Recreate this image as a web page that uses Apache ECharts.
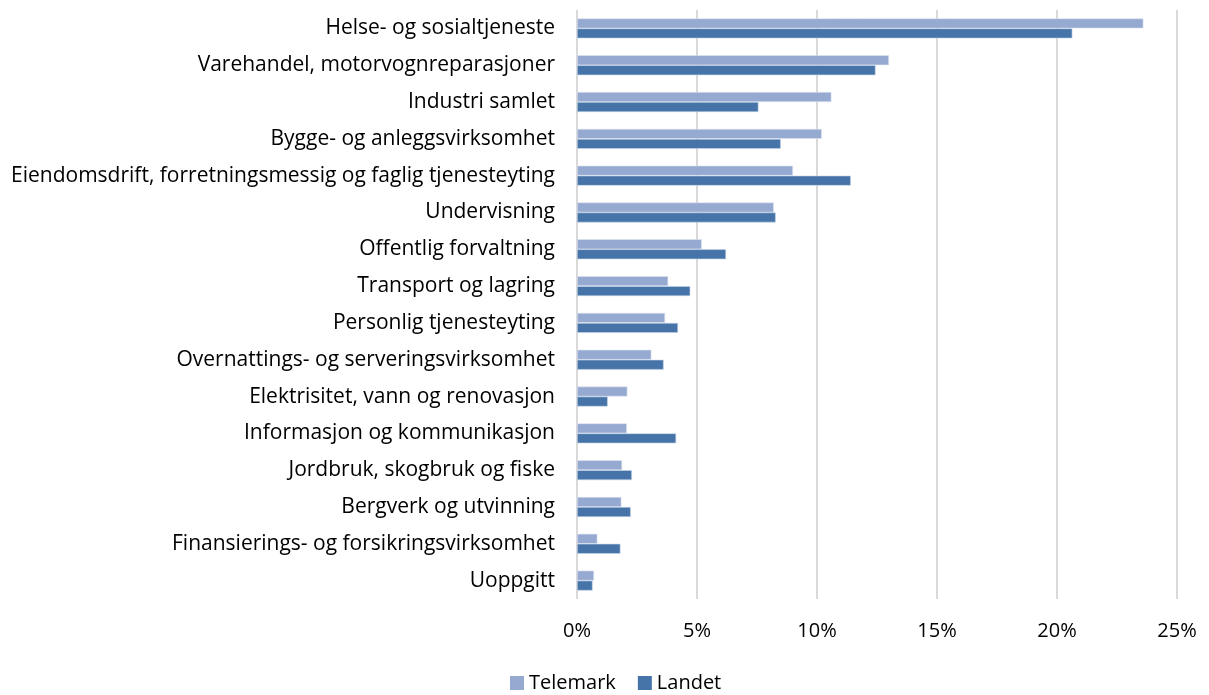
<!DOCTYPE html>
<html>
<head>
<meta charset="utf-8">
<script src="https://cdn.jsdelivr.net/npm/echarts@6/dist/echarts.min.js"></script>
<style>
  html, body { margin: 0; padding: 0; background: #fff; }
  #main { width: 1209px; height: 695px; }
</style>
</head>
<body>
<div id="main"></div>
<script>
// næringer, ovenfra og ned
var naeringer = [
  'Helse- og sosialtjeneste',
  'Varehandel, motorvognreparasjoner',
  'Industri samlet',
  'Bygge- og anleggsvirksomhet',
  'Eiendomsdrift, forretningsmessig og faglig tjenesteyting',
  'Undervisning',
  'Offentlig forvaltning',
  'Transport og lagring',
  'Personlig tjenesteyting',
  'Overnattings- og serveringsvirksomhet',
  'Elektrisitet, vann og renovasjon',
  'Informasjon og kommunikasjon',
  'Jordbruk, skogbruk og fiske',
  'Bergverk og utvinning',
  'Finansierings- og forsikringsvirksomhet',
  'Uoppgitt'
];
// andel sysselsatte, prosent
var telemark = [23.6, 13.0, 10.6, 10.2, 9.0, 8.2, 5.2, 3.8, 3.67, 3.1, 2.1, 2.08, 1.88, 1.85, 0.85, 0.71];
var landet   = [20.64, 12.44, 7.56, 8.49, 11.41, 8.28, 6.21, 4.72, 4.21, 3.61, 1.28, 4.13, 2.29, 2.24, 1.81, 0.65];

var fnt = 'Open Sans';

var myChart = echarts.init(document.getElementById('main'));
var option = {
  backgroundColor: '#fff',
  animation: false,
  textStyle: { fontFamily: fnt },
  grid: { left: 577, right: 32, top: 10, height: 589, containLabel: false },
  legend: {
    top: 668,
    left: 505,
    itemWidth: 14,
    itemHeight: 14,
    itemGap: 22,
    icon: 'rect',
    itemStyle: { borderWidth: 0 },
    textStyle: { fontSize: 20, color: '#000', fontFamily: fnt },
    data: ['Telemark', 'Landet']
  },
  xAxis: {
    type: 'value',
    min: 0,
    max: 25,
    interval: 5,
    axisLabel: {
      formatter: '{value}%',
      fontSize: 20,
      color: '#000',
      margin: 22
    },
    axisLine: { show: false },
    axisTick: { show: false },
    splitLine: { show: true, lineStyle: { color: '#d9d9d9', width: 2 } }
  },
  yAxis: {
    type: 'category',
    inverse: true,
    data: naeringer,
    axisLabel: { fontSize: 21, color: '#000', margin: 22 },
    axisLine: { show: false },
    axisTick: { show: false }
  },
  series: [
    {
      name: 'Telemark',
      type: 'bar',
      data: telemark,
      barWidth: 10,
      barGap: '0%',
      itemStyle: { color: '#95a9d1', borderColor: '#dfe6f2', borderWidth: 0.6 }
    },
    {
      name: 'Landet',
      type: 'bar',
      data: landet,
      barWidth: 10,
      barGap: '0%',
      itemStyle: { color: '#4674a9', borderColor: '#c9d6e8', borderWidth: 0.6 }
    }
  ]
};
myChart.setOption(option);
</script>
</body>
</html>
